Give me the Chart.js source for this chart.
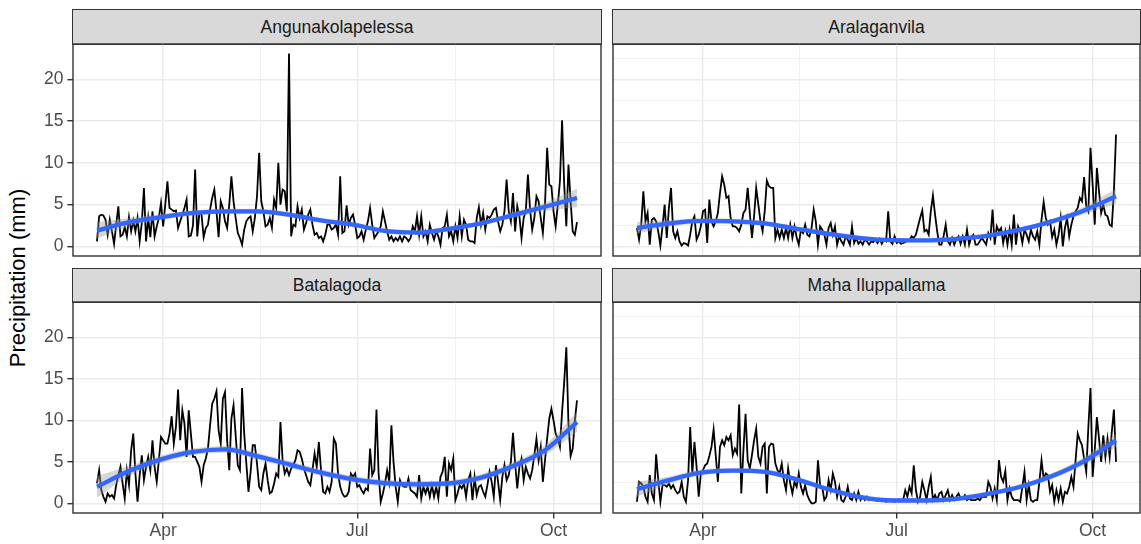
<!DOCTYPE html>
<html lang="en">
<head>
<meta charset="UTF-8">
<title>Daily precipitation by station</title>
<script src="https://cdn.jsdelivr.net/npm/chart.js/dist/chart.umd.min.js"></script>
<style>
  html, body { margin: 0; padding: 0; background: #fff; }
  body { width: 1141px; height: 544px; position: relative; overflow: hidden;
         font-family: "Liberation Sans", Arial, sans-serif; }
  .strip { position: absolute; box-sizing: border-box; background: #d9d9d9;
           border: 1.4px solid #333; color: #1a1a1a; font-size: 17.5px;
           display: flex; align-items: center; justify-content: center; }
  canvas { position: absolute; }
  #ytitle { position: absolute; left: 18px; top: 278px; white-space: nowrap;
            transform: translate(-50%, -50%) rotate(-90deg); font-size: 22px; color: #000; }
</style>
</head>
<body>
<div class="strip" style="left:72px;top:9px;width:530px;height:36px">Angunakolapelessa</div>
<div class="strip" style="left:612px;top:9px;width:529px;height:36px">Aralaganvila</div>
<div class="strip" style="left:72px;top:268px;width:530px;height:35px">Batalagoda</div>
<div class="strip" style="left:612px;top:268px;width:529px;height:35px">Maha Iluppallama</div>
<div id="ytitle">Precipitation (mm)</div>

<canvas id="pA" width="573" height="216" style="left:30px;top:42px"></canvas>
<canvas id="pB" width="530" height="216" style="left:611px;top:42px"></canvas>
<canvas id="pC" width="573" height="244" style="left:30px;top:300px"></canvas>
<canvas id="pD" width="530" height="244" style="left:611px;top:300px"></canvas>

<script>
// daily values, day 0 = 1 Mar, last = 12 Oct
const angunakolapelessa = [
  0.6, 3.6, 3.8, 3.7, 3.2, 1.4, 3.2, 1.8, 0.3, 2.6,
  4.8, 1.2, 1.4, 2.3, 1.2, 3.5, 1.8, 3.1, 1.8, 3.4,
  0.6, 2.8, 7.0, 0.6, 3.4, 1.1, 4.2, 1.2, 2.4, 3.4,
  5.2, 2.4, 5.0, 7.8, 4.6, 4.4, 4.2, 4.3, 2.2, 3.0,
  3.8, 4.6, 5.6, 1.2, 1.3, 2.5, 9.2, 1.2, 4.0, 3.8,
  1.1, 2.2, 2.6, 4.4, 5.8, 6.8, 4.2, 1.1, 5.4, 4.6,
  3.0, 2.2, 5.0, 8.4, 5.4, 3.4, 1.6, 1.0, 0.2, 2.0,
  3.0, 3.4, 3.6, 1.8, 3.4, 6.0, 11.2, 5.4, 4.2, 2.4,
  2.6, 3.4, 2.2, 5.6, 4.6, 10.0, 5.0, 6.8, 6.6, 4.2,
  23.1, 1.2, 2.6, 2.4, 4.8, 3.4, 4.4, 2.0, 2.8, 3.8,
  4.4, 2.6, 1.4, 1.6, 1.0, 1.2, 0.6, 1.4, 2.6, 2.6,
  2.0, 2.2, 2.6, 1.4, 8.4, 1.6, 1.8, 4.9, 2.6, 3.4,
  3.8, 2.6, 1.0, 1.2, 1.8, 0.8, 2.0, 3.0, 4.6, 2.6,
  1.0, 1.4, 1.8, 2.4, 4.2, 3.0, 1.8, 0.8, 1.2, 0.6,
  1.0, 0.7, 1.2, 0.6, 1.2, 1.0, 0.6, 1.0, 2.4, 1.8,
  3.6, 1.4, 3.6, 1.2, 1.8, 0.6, 2.6, 1.6, 0.8, 1.8,
  1.2, 0.2, 2.2, 2.4, 3.8, 1.2, 1.8, 0.6, 2.4, 1.0,
  3.6, 1.2, 3.2, 2.6, 0.8, 0.6, 0.6, 0.4, 3.4, 4.7,
  2.6, 4.0, 2.0, 3.6, 3.4, 3.8, 4.4, 4.6, 3.0, 1.8,
  2.6, 4.2, 8.0, 4.2, 3.0, 6.4, 1.8, 4.8, 3.6, 1.0,
  3.4, 4.2, 8.6, 4.4, 2.0, 3.4, 6.0, 5.4, 3.4, 1.6,
  5.0, 11.8, 7.4, 7.2, 4.2, 2.4, 5.0, 7.8, 15.1, 7.4,
  2.4, 9.8, 5.4, 1.8, 1.4, 2.9
];
const aralaganvila = [
  2.2, 0.8, 2.6, 6.6, 3.0, 4.0, 0.2, 3.2, 3.4, 3.0,
  1.8, 0.1, 2.4, 5.0, 1.0, 4.6, 7.0, 1.8, 1.0, 1.8,
  0.6, 0.1, 0.4, 0.3, 0.1, 1.4, 3.0, 3.6, 0.8, 1.4,
  2.4, 4.2, 4.4, 0.4, 5.6, 3.0, 2.4, 3.0, 4.0, 6.4,
  8.4, 7.4, 5.8, 6.0, 3.4, 2.4, 2.4, 2.2, 1.8, 2.6,
  4.0, 4.4, 7.0, 4.0, 1.0, 3.6, 7.0, 5.0, 3.0, 1.8,
  4.2, 7.9, 7.2, 7.0, 7.0, 1.0, 2.0, 1.0, 2.0, 1.0,
  2.2, 1.0, 2.6, 1.0, 2.4, 1.1, 0.2, 2.0, 1.6, 2.6,
  1.4, 1.2, 2.2, 4.4, 3.0, 0.2, 2.4, 2.0, 1.4, 0.2,
  2.2, 2.8, 1.4, 2.4, 0.2, 1.2, 0.6, 0.2, 1.2, 0.8,
  0.2, 2.4, 0.4, 1.0, 0.3, 0.6, 0.2, 0.8, 0.6, 0.2,
  0.6, 0.5, 0.8, 0.4, 0.9, 0.3, 0.8, 0.6, 4.2, 0.6,
  0.3, 1.2, 0.4, 0.6, 0.3, 0.4, 0.5, 0.7, 0.8, 1.2,
  1.0, 1.4, 2.4, 3.4, 4.3, 1.8, 2.0, 1.4, 4.2, 6.1,
  3.8, 1.8, 0.2, 0.2, 1.2, 2.6, 0.6, 0.2, 1.0, 0.2,
  0.8, 1.2, 0.3, 1.2, 0.2, 2.0, 0.2, 1.1, 1.4, 0.2,
  0.2, 0.6, 1.0, 0.6, 0.2, 1.6, 1.0, 4.4, 0.2, 2.4,
  1.8, 2.2, 0.4, 1.8, 0.2, 2.0, 0.2, 3.8, 0.2, 2.4,
  1.8, 0.4, 2.0, 1.4, 0.6, 2.0, 1.2, 0.8, 1.8, 0.2,
  3.2, 5.3, 3.4, 2.6, 3.0, 1.1, 2.0, 0.2, 1.4, 3.4,
  0.0, 2.2, 3.4, 1.2, 2.6, 3.6, 4.2, 4.6, 5.8, 5.4,
  8.3, 4.8, 4.2, 11.8, 7.4, 2.6, 9.4, 6.6, 4.0, 5.0,
  3.8, 3.6, 2.6, 2.4, 6.6, 13.4
];
const batalagoda = [
  2.4, 4.0, 1.6, 0.8, 0.2, 1.2, 0.8, 1.0, 0.6, 2.2,
  3.4, 4.4, 2.4, 0.6, 4.0, 2.2, 6.4, 8.4, 3.6, 0.2,
  3.4, 5.8, 2.8, 4.4, 5.6, 4.0, 7.6, 4.4, 2.6, 5.2,
  8.0, 7.6, 7.2, 7.2, 8.4, 10.5, 7.2, 9.2, 13.7, 7.6,
  11.2, 9.6, 5.6, 11.2, 8.4, 5.6, 5.6, 5.0, 4.4, 2.6,
  4.6, 5.4, 6.6, 9.4, 12.0, 12.6, 13.5, 8.8, 7.2, 12.6,
  13.4, 7.6, 4.0, 10.2, 11.8, 8.2, 4.6, 4.0, 13.9, 8.4,
  4.8, 1.4, 3.8, 7.0, 7.0, 4.8, 2.0, 1.6, 3.6, 4.8,
  2.8, 1.2, 1.4, 2.4, 3.6, 3.2, 9.8, 5.2, 3.6, 4.2,
  3.4, 4.2, 4.6, 5.2, 6.4, 6.2, 5.4, 4.2, 3.4, 2.6,
  2.2, 4.0, 6.0, 4.4, 7.4, 4.0, 1.4, 1.2, 2.0, 1.4,
  2.6, 7.8, 7.2, 3.6, 2.0, 1.2, 0.8, 0.9, 1.4, 3.6,
  3.2, 3.6, 2.0, 2.2, 1.6, 1.2, 1.8, 1.6, 6.6, 3.4,
  4.0, 11.3, 3.6, 0.2, 1.2, 2.4, 4.0, 2.6, 9.4, 5.0,
  2.0, 0.2, 2.8, 2.2, 2.0, 2.0, 3.0, 1.6, 1.4, 1.2,
  0.8, 3.4, 0.6, 2.0, 1.2, 2.0, 0.8, 2.2, 0.8, 2.0,
  0.6, 3.2, 3.8, 5.6, 0.8, 4.8, 4.0, 5.4, 0.4, 1.2,
  2.2, 1.8, 2.4, 0.8, 2.8, 3.6, 0.4, 3.2, 1.0, 2.0,
  2.2, 1.4, 0.8, 2.2, 3.8, 2.6, 0.8, 4.6, 2.6, 0.4,
  3.2, 4.6, 2.8, 3.4, 5.0, 8.5, 4.8, 1.8, 4.4, 5.4,
  2.8, 4.4, 3.6, 3.0, 4.0, 5.8, 7.8, 5.2, 6.8, 2.6,
  5.2, 7.8, 10.2, 11.4, 10.0, 8.4, 7.8, 6.8, 11.0, 14.6,
  18.8, 9.6, 5.7, 6.6, 10.0, 12.4
];
const mahaIluppallama = [
  0.2, 2.6, 2.4, 2.0, 0.8, 0.2, 3.4, 1.2, 0.4, 5.9,
  2.8, 0.2, 2.2, 2.2, 2.0, 2.4, 1.8, 2.2, 1.6, 1.2,
  1.4, 2.6, 0.8, 0.2, 2.8, 9.2, 3.6, 7.4, 4.4, 0.8,
  3.6, 4.0, 4.6, 4.8, 5.7, 6.8, 8.9, 5.8, 2.6, 6.8,
  7.6, 7.0, 8.0, 7.6, 8.2, 5.8, 6.6, 6.0, 11.9, 1.2,
  6.4, 10.8, 5.2, 4.2, 5.8, 7.6, 9.0, 5.6, 4.8, 6.8,
  7.2, 1.2, 6.8, 7.2, 7.1, 4.8, 4.0, 3.6, 4.8, 2.8,
  1.6, 4.2, 2.4, 1.2, 2.6, 2.0, 3.6, 2.0, 1.2, 2.2,
  1.0, 0.4, 0.0, 0.0, 0.2, 5.2, 2.2, 2.0, 0.4, 0.8,
  2.8, 1.6, 3.6, 2.6, 0.8, 2.0, 0.4, 0.2, 0.8, 2.0,
  0.6, 0.4, 1.2, 0.4, 1.4, 0.4, 0.8, 0.4, 0.8, 0.4,
  0.6, 0.4, 0.4, 0.3, 0.5, 0.3, 0.4, 0.2, 0.5, 0.3,
  0.4, 0.2, 0.4, 0.5, 0.3, 0.4, 1.6, 0.8, 2.0, 1.2,
  4.6, 1.6, 0.2, 0.8, 2.6, 1.6, 0.4, 2.0, 3.2, 0.4,
  1.0, 0.4, 1.2, 1.4, 0.4, 1.0, 1.6, 0.4, 1.0, 0.4,
  0.8, 1.2, 0.6, 0.6, 1.0, 0.4, 0.6, 0.4, 0.4, 0.4,
  0.6, 0.4, 0.8, 0.8, 0.8, 2.6, 2.0, 0.6, 1.8, 0.4,
  5.2, 3.2, 2.6, 3.9, 0.4, 1.8, 0.8, 0.4, 0.4, 0.4,
  0.2, 2.0, 3.8, 0.4, 2.2, 0.4, 0.2, 0.4, 0.4, 2.6,
  5.2, 3.0, 3.6, 3.4, 1.4, 2.2, 0.2, 1.6, 0.4, 1.8,
  0.2, 1.4, 1.2, 2.0, 3.2, 2.0, 5.2, 8.4, 7.6, 7.0,
  5.4, 3.8, 9.2, 13.9, 3.2, 6.4, 10.4, 7.8, 5.0, 8.2,
  5.6, 7.8, 5.6, 8.6, 11.3, 5.0
];

// loess fit with confidence band, read at these days
const smoothDays = [0, 15, 30, 45, 60, 75, 90, 105, 120, 135, 150, 165, 180, 195, 210, 225];
const fitA = [1.9, 2.9, 3.5, 4.0, 4.2, 4.2, 3.8, 3.1, 2.6, 1.85, 1.65, 2.1, 2.75, 3.75, 4.75, 5.8];
const loA  = [0.9, 2.4, 3.15, 3.7, 3.9, 3.9, 3.5, 2.8, 2.3, 1.55, 1.35, 1.8, 2.45, 3.4, 4.25, 4.7];
const hiA  = [2.9, 3.4, 3.85, 4.3, 4.5, 4.5, 4.1, 3.4, 2.9, 2.15, 1.95, 2.4, 3.05, 4.1, 5.25, 6.9];
const fitB = [2.2, 2.75, 3.05, 3.0, 2.75, 2.1, 1.5, 1.0, 0.75, 0.72, 0.9, 1.3, 2.0, 3.0, 4.3, 6.0];
const loB  = [1.5, 2.35, 2.75, 2.7, 2.45, 1.8, 1.2, 0.72, 0.5, 0.47, 0.65, 1.05, 1.75, 2.7, 3.85, 5.1];
const hiB  = [2.9, 3.15, 3.35, 3.3, 3.05, 2.4, 1.8, 1.28, 1.0, 0.97, 1.15, 1.55, 2.25, 3.3, 4.75, 6.9];
const fitC = [2.0, 3.9, 5.3, 6.2, 6.5, 5.7, 4.7, 3.7, 2.9, 2.45, 2.3, 2.4, 3.1, 4.5, 6.4, 9.8];
const loC  = [0.7, 3.3, 4.85, 5.8, 6.1, 5.3, 4.3, 3.3, 2.5, 2.05, 1.9, 2.0, 2.7, 4.05, 5.8, 8.6];
const hiC  = [3.3, 4.5, 5.75, 6.6, 6.9, 6.1, 5.1, 4.1, 3.3, 2.85, 2.7, 2.8, 3.5, 4.95, 7.0, 11.0];
const fitD = [1.7, 2.8, 3.7, 3.95, 3.8, 2.9, 1.7, 0.75, 0.35, 0.35, 0.55, 1.15, 2.0, 3.3, 5.1, 7.6];
const loD  = [0.8, 2.35, 3.35, 3.65, 3.5, 2.6, 1.4, 0.45, 0.05, 0.05, 0.25, 0.85, 1.7, 2.95, 4.6, 6.8];
const hiD  = [2.6, 3.25, 4.05, 4.25, 4.1, 3.2, 2.0, 1.05, 0.65, 0.65, 0.85, 1.45, 2.3, 3.65, 5.6, 8.4];

// axes
const xTickDays = [31, 76.5, 122, 168, 214];
const xTickLabels = ['Apr', '', 'Jul', '', 'Oct'];
const yTicks = [0, 2.5, 5, 7.5, 10, 12.5, 15, 17.5, 20, 22.5];
const yTickLabels = ['0', '', '5', '', '10', '', '15', '', '20', ''];

Chart.defaults.font.family = '"Liberation Sans", Arial, sans-serif';

const panelBorder = {
    id: 'panelBorder',
    afterDraw(chart) {
        const { ctx, chartArea: a } = chart;
        ctx.save();
        ctx.strokeStyle = '#333';
        ctx.lineWidth = 1.4;
        ctx.strokeRect(a.left, a.top, a.right - a.left, a.bottom - a.top);
        ctx.restore();
    }
};

function pts(xs, ys) {
    return ys.map((y, i) => ({ x: xs[i], y: y }));
}

function makePanel(id, values, fit, lo, hi, showX, showY, padding) {
    const days = values.map((v, i) => i);
    const isMajorY = v => yTickLabels[yTicks.indexOf(v)] !== '';
    const isMajorX = v => xTickLabels[xTickDays.indexOf(v)] !== '';

    new Chart(document.getElementById(id), {
        type: 'line',
        data: {
            datasets: [{
                data: pts(smoothDays, fit),
                borderColor: '#3366ff',
                borderWidth: 4.3,
                pointRadius: 0,
                cubicInterpolationMode: 'monotone',
                fill: false
            }, {
                data: pts(smoothDays, hi),
                borderColor: 'rgba(0,0,0,0)',
                borderWidth: 0,
                pointRadius: 0,
                cubicInterpolationMode: 'monotone',
                backgroundColor: 'rgba(153,153,153,0.4)',
                fill: '+1'
            }, {
                data: pts(smoothDays, lo),
                borderColor: 'rgba(0,0,0,0)',
                borderWidth: 0,
                pointRadius: 0,
                cubicInterpolationMode: 'monotone',
                fill: false
            }, {
                data: pts(days, values),
                borderColor: '#000',
                borderWidth: 1.8,
                pointRadius: 0,
                tension: 0,
                fill: false
            }]
        },
        options: {
            responsive: false,
            animation: false,
            devicePixelRatio: 1,
            events: [],
            layout: { padding: padding },
            plugins: { legend: { display: false }, tooltip: { enabled: false } },
            scales: {
                x: {
                    type: 'linear',
                    min: -11.25,
                    max: 236.25,
                    afterBuildTicks: s => { s.ticks = xTickDays.map(v => ({ value: v })); },
                    afterFit: s => { s.height = showX ? 31 : 0; s.paddingLeft = 0; s.paddingRight = 0; },
                    border: { display: false },
                    grid: {
                        color: '#ebebeb',
                        lineWidth: c => isMajorX(c.tick.value) ? 1.4 : 0.7,
                        drawTicks: showX,
                        tickLength: 5.6,
                        tickWidth: 1.4,
                        tickColor: c => isMajorX(c.tick.value) ? '#333' : 'rgba(0,0,0,0)'
                    },
                    ticks: {
                        display: showX,
                        autoSkip: false,
                        maxRotation: 0,
                        padding: 2,
                        color: '#4d4d4d',
                        font: { size: 17.5 },
                        callback: v => xTickLabels[xTickDays.indexOf(v)]
                    }
                },
                y: {
                    min: -1.155,
                    max: 24.25,
                    afterBuildTicks: s => { s.ticks = yTicks.map(v => ({ value: v })); },
                    afterFit: s => { s.width = showY ? 43 : 0; s.paddingTop = 0; s.paddingBottom = 0; },
                    border: { display: false },
                    grid: {
                        color: '#ebebeb',
                        lineWidth: c => isMajorY(c.tick.value) ? 1.4 : 0.7,
                        drawTicks: showY,
                        tickLength: 5.6,
                        tickWidth: 1.4,
                        tickColor: c => isMajorY(c.tick.value) ? '#333' : 'rgba(0,0,0,0)'
                    },
                    ticks: {
                        display: showY,
                        padding: 4,
                        color: '#4d4d4d',
                        font: { size: 17.5 },
                        callback: v => yTickLabels[yTicks.indexOf(v)]
                    }
                }
            }
        },
        plugins: [panelBorder]
    });
}

makePanel('pA', angunakolapelessa, fitA, loA, hiA, false, true, { left: 0, top: 2, right: 2, bottom: 2 });
makePanel('pB', aralaganvila, fitB, loB, hiB, false, false, { left: 2, top: 2, right: 1, bottom: 2 });
makePanel('pC', batalagoda, fitC, loC, hiC, true, true, { left: 0, top: 2, right: 2, bottom: 0 });
makePanel('pD', mahaIluppallama, fitD, loD, hiD, true, false, { left: 2, top: 2, right: 1, bottom: 0 });
</script>
</body>
</html>
